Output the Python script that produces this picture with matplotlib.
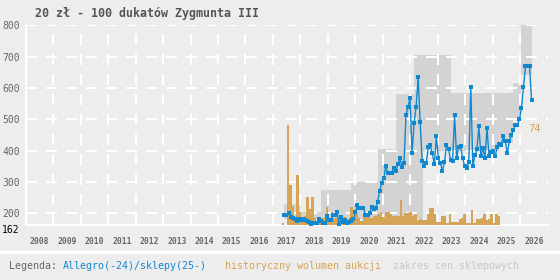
import numpy as np
import matplotlib
matplotlib.use("Agg")
import matplotlib.pyplot as plt

# --- data ---
title = "20 zł - 100 dukatów Zygmunta III"

# Allegro / shop price, roughly monthly, 2017.4 -> 2026.4
price = [193, 193, 199, 186, 183, 180, 176, 180, 178, 181, 178, 174, 172, 164,
         168, 169, 168, 182, 174, 167, 167, 191, 178, 178, 195, 195, 203, 162,
         188, 172, 179, 167, 172, 176, 180, 204, 225, 216, 216, 216, 195, 195,
         199, 219, 214, 216, 237, 270, 296, 311, 351, 329, 329, 329, 344,
         334, 357, 375, 347, 359, 512, 540, 567, 391, 487, 540, 634, 490, 365,
         352, 359, 410, 416, 391, 356, 445, 375, 359, 336, 362, 416, 406, 369,
         365, 512, 375, 412, 413, 375, 349, 343, 362, 602, 349, 385, 404, 477,
         381, 407, 375, 471, 381, 395, 397, 381, 410, 420, 416, 445, 430, 391,
         430, 448, 464, 480, 480, 500, 535, 602, 669, 669, 669, 560]
price_start, price_end = 2017.42, 2026.42

# historical auction volume (monthly counts)
volume = [1.5, 0, 74, 30, 14, 6, 37, 10, 3, 7, 21, 12, 21, 5, 2, 2, 5, 5, 13, 4,
          10, 5, 5, 6, 4, 6, 4, 5, 13, 4, 8, 5, 3, 6, 6, 6, 5, 7, 7, 8, 10, 6,
          10, 10, 8, 7, 7, 7, 18.5,
          7, 9, 9, 10, 7, 8, 4, 4.5, 3.5, 4, 8, 12.6, 12.6, 8, 2.5, 2.5, 6.7,
          6.7, 1.7, 8, 2.5, 2.5, 2.5, 4.5, 5.4, 8, 1.7, 1.7, 11, 1.7, 4.5, 4.5,
          5.2, 8, 3.7, 4.5, 8, 1.7, 8, 6.7]
volume_start, volume_end = 2017.32, 2025.28
volume_max = 74

# shop price range (step edges)
band_x = [2017.42, 2017.97, 2018.76, 2019.85, 2020.82, 2021.49, 2022.15,
          2022.45, 2023.49, 2025.24, 2025.73, 2026.03, 2026.42]
band_hi = [228, 205, 273, 300, 404, 579, 705, 705, 583, 583, 615, 800, 800]
band_lo = [180, 180, 180, 180, 180, 180, 180, 400, 400, 425, 497, 641, 641]

years = list(range(2008, 2027))
yticks = [200, 300, 400, 500, 600, 700, 800]
ymin = 162

# --- style ---
BG = "#ededed"
BLUE = "#1088d0"
ORANGE = "#d6a456"
BAND = "#d3d3d3"
MONO = "DejaVu Sans Mono"
plt.rcParams["lines.scale_dashes"] = False

W, H = 560, 280
fig = plt.figure(figsize=(W / 100, H / 100), dpi=100, facecolor=BG)

left, right, bottom, top = 25.8, 547.5, 225, 25.3
pos = [left / W, 1 - bottom / H, (right - left) / W, (bottom - top) / H]

ax = fig.add_axes(pos)
ax.set_facecolor(BG)
ax.fill_between(band_x, band_lo, band_hi, step="post", color=BAND, lw=0)
ax.set_xlim(2008, 2027)
ax.set_ylim(ymin, 800)

dash = (0, (7.9, 6.5))
for v in yticks:
    ax.axhline(v, color="white", lw=1.5, ls=dash, zorder=2)
for y in years[1:]:
    ax.axvline(y, color="white", lw=1.5, ls=dash, zorder=2)

ax.set_xticks(years)
ax.set_xticks([y + 0.5 for y in years], minor=True)
ax.set_xticklabels([])
ax.set_xticklabels([str(y) for y in years], minor=True)
ax.set_yticks([ymin] + yticks)
ax.set_yticklabels([str(ymin)] + [str(v) for v in yticks])
ax.tick_params(which="both", length=0)
ax.tick_params(axis="x", which="minor", pad=8.5, labelsize=5.8, labelcolor="#666666")
ax.tick_params(axis="y", pad=4.3, labelsize=7, labelcolor="#666666")
for lab in ax.get_xticklabels(minor=True):
    lab.set_fontfamily(MONO)
    lab.set_fontweight("bold")
for lab in ax.get_yticklabels():
    lab.set_fontfamily(MONO)
ylabs = ax.get_yticklabels()
ylabs[0].set_color("black")
ylabs[0].set_verticalalignment("top")
for side in ["top", "right"]:
    ax.spines[side].set_visible(False)
for side in ["left", "bottom"]:
    ax.spines[side].set_color("white")
    ax.spines[side].set_linewidth(1.5)

# volume bars on their own scale
axv = ax.twinx()
axv.set_ylim(0, volume_max * 2)
edges = np.linspace(volume_start, volume_end, len(volume) + 1)
axv.bar(edges[:-1], volume, width=np.diff(edges), align="edge", color=ORANGE, lw=0)
axv.text(2026.52, volume_max - 3, str(volume_max), color=ORANGE, fontsize=7.5,
         family=MONO, ha="center", va="center")
axv.axis("off")

# price line on top
axl = ax.twinx()
axl.set_ylim(ax.get_ylim())
px = np.linspace(price_start, price_end, len(price))
axl.plot(px, price, color=BLUE, lw=1.0, marker="s", ms=2.3, mew=0)
axl.set_xlim(ax.get_xlim())
axl.axis("off")

fig.text(35 / W, 1 - 13 / H, title, ha="left", va="center", fontsize=8.4,
         fontweight="bold", family=MONO, color="#555555")

# separator and legend row
fig.add_artist(plt.Line2D([0, 1], [1 - 251.5 / H] * 2, color="white", lw=2.4,
                          transform=fig.transFigure))
cw = 6.0
legend_parts = [("Legenda: ", "#666666", 0),
                ("Allegro(-24)/sklepy(25-)", BLUE, 9),
                ("historyczny wolumen aukcji", ORANGE, 36),
                ("zakres cen sklepowych", "#c8c8c8", 64)]
for txt, col, off in legend_parts:
    fig.text((9.3 + off * cw) / W, 1 - 266 / H, txt, color=col, fontsize=7.2,
             family=MONO, ha="left", va="center")

fig.savefig("out.png", dpi=100, facecolor=BG)
